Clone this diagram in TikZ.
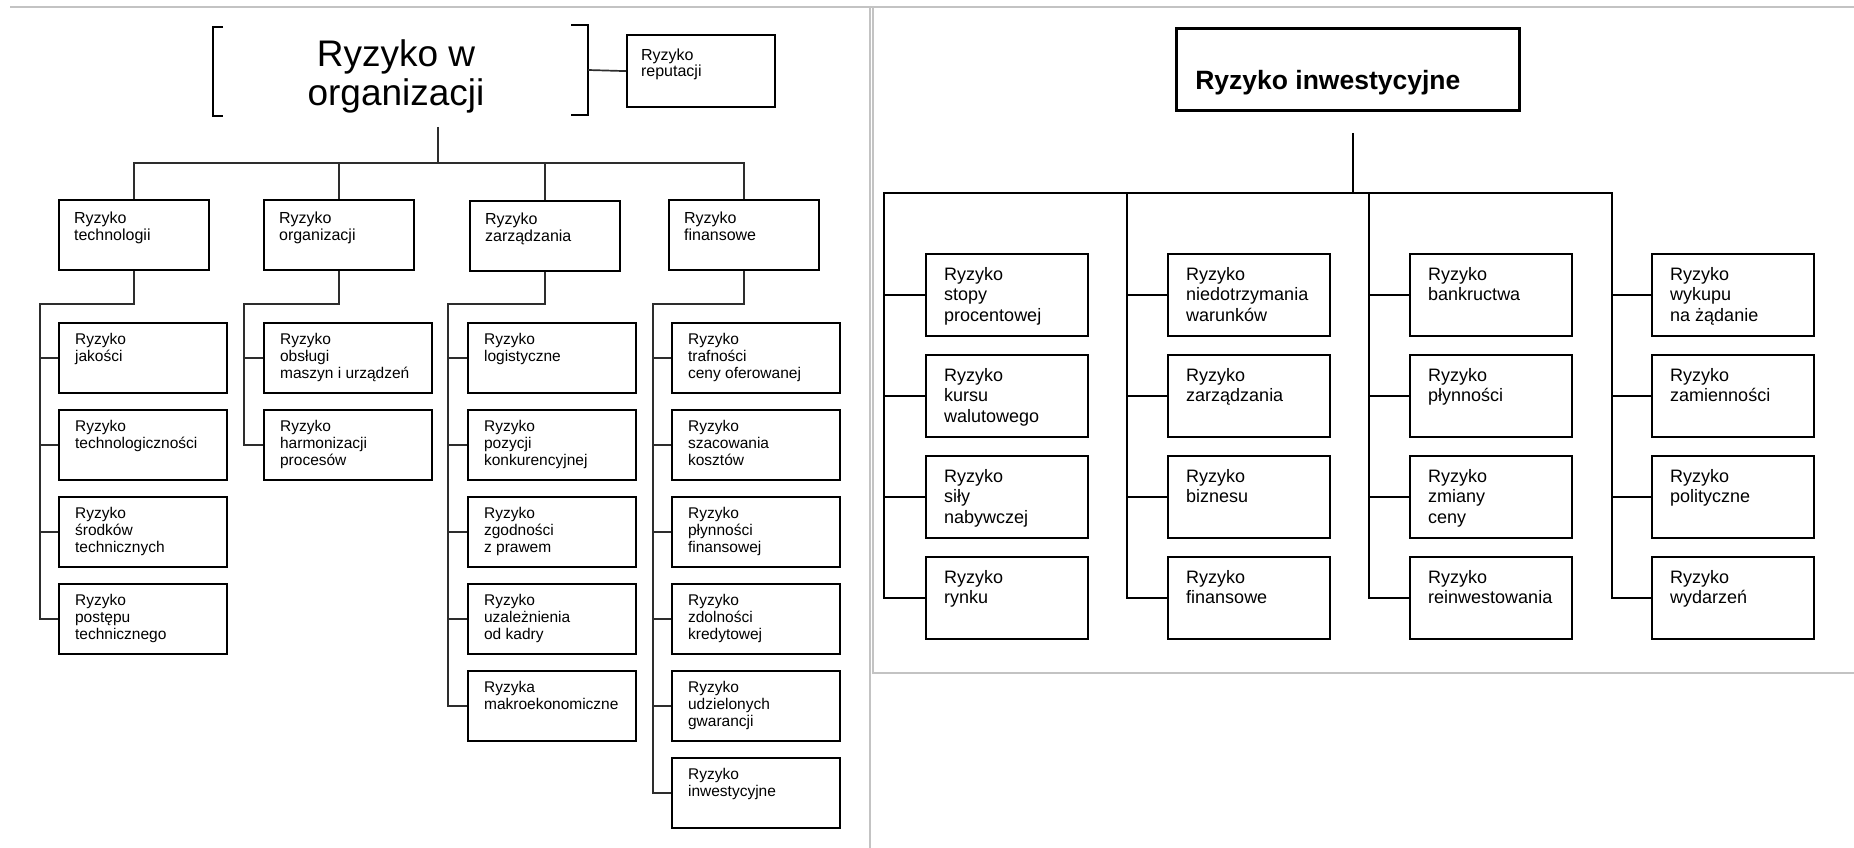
\documentclass[tikz,border=0pt]{standalone}
\usepackage{fontspec}
\setmainfont{Liberation Sans}
\definecolor{framegray}{RGB}{195,195,195}
\definecolor{conngray}{RGB}{45,45,45}
\newcommand\bt[5]{\hspace*{#1}\parbox[t][#2][t]{#3}{\raggedright\rule{0pt}{#4}#5}}
\newcommand\lone[1]{\bt{15pt}{70pt}{135pt}{23pt}{#1}}
\newcommand\ltwo[1]{\bt{16pt}{70pt}{152pt}{21pt}{#1}}
\newcommand\rtwo[1]{\bt{18pt}{82pt}{144pt}{26pt}{#1}}
\tikzset{
  boxbase/.style={draw=black, line width=2.2pt, inner sep=0pt, anchor=north west},
  lonebox/.style={boxbase, font=\fontsize{16}{17}\selectfont},
  ltwobox/.style={boxbase, font=\fontsize{15.5}{17}\selectfont},
  rtwobox/.style={boxbase, line width=2.4pt, font=\fontsize{18}{20.7}\selectfont},
  lconn/.style={draw=conngray, line width=1.7pt},
  rconn/.style={draw=black, line width=2pt},
  frame/.style={draw=framegray, line width=2pt}
}
\begin{document}
\begin{tikzpicture}[x=1pt, y=-1pt, line join=miter]
\useasboundingbox (0,0) rectangle (1854,848);
% frame lines
\draw[frame] (10,7) -- (1854,7);
\draw[frame] (870,7) -- (870,848);
\draw[frame] (873,7) -- (873,673) -- (1854,673);

% ---------------- left panel ----------------
\node[font=\fontsize{37}{39}\selectfont, align=center, inner sep=0pt, anchor=base] (title) at (396,106) {Ryzyko w\\organizacji};
\draw[line width=2.2pt] (223,27) -- (213,27) -- (213,116) -- (223,116);
\draw[line width=2.2pt] (571,25) -- (588,25) -- (588,115) -- (571,115);
\node[boxbase, font=\fontsize{16}{16.5}\selectfont] (rep) at (626,34) {\bt{14pt}{72pt}{134pt}{25pt}{Ryzyko\\reputacji}};
\coordinate (rb) at (588,70);
\draw[lconn] (rb) -- (rep.west);

\node[lonebox] (t1) at (58,199)  {\lone{Ryzyko\\technologii}};
\node[lonebox] (t2) at (263,199) {\lone{Ryzyko\\organizacji}};
\node[lonebox] (t3) at (469,200) {\lone{Ryzyko\\zarządzania}};
\node[lonebox] (t4) at (668,199) {\lone{Ryzyko\\finansowe}};

\coordinate (tb) at (438,127);
\coordinate (lbus) at (0,163);
\draw[lconn] (tb) -- (tb |- lbus);
\draw[lconn] (t1.north) -- (t1.north |- lbus) -- (t4.north |- lbus) -- (t4.north);
\draw[lconn] (t2.north |- lbus) -- (t2.north);
\draw[lconn] (t3.north |- lbus) -- (t3.north);

% sub boxes, left panel
\foreach \t [count=\i] in {{Ryzyko\\jakości},{Ryzyko\\technologiczności},{Ryzyko\\środków\\technicznych},{Ryzyko\\postępu\\technicznego}}
  \node[ltwobox] (a\i) at (58,{322+87*(\i-1)}) {\ltwo{\t}};
\foreach \t [count=\i] in {{Ryzyko\\obsługi\\maszyn i urządzeń},{Ryzyko\\harmonizacji\\procesów}}
  \node[ltwobox] (b\i) at (263,{322+87*(\i-1)}) {\ltwo{\t}};
\foreach \t [count=\i] in {{Ryzyko\\logistyczne},{Ryzyko\\pozycji\\konkurencyjnej},{Ryzyko\\zgodności\\z prawem},{Ryzyko\\uzależnienia\\od kadry},{Ryzyka\\makroekonomiczne}}
  \node[ltwobox] (c\i) at (467,{322+87*(\i-1)}) {\ltwo{\t}};
\foreach \t [count=\i] in {{Ryzyko\\trafności\\ceny oferowanej},{Ryzyko\\szacowania\\kosztów},{Ryzyko\\płynności\\finansowej},{Ryzyko\\zdolności\\kredytowej},{Ryzyko\\udzielonych\\gwarancji},{Ryzyko\\inwestycyjne}}
  \node[ltwobox] (d\i) at (671,{322+87*(\i-1)}) {\ltwo{\t}};

\coordinate (sA) at (40,304);
\coordinate (sB) at (244,304);
\coordinate (sC) at (448,304);
\coordinate (sD) at (653,304);
\draw[lconn] (t1.south) |- (sA) |- (a4.west);
\draw[lconn] (t2.south) |- (sB) |- (b2.west);
\draw[lconn] (t3.south) |- (sC) |- (c5.west);
\draw[lconn] (t4.south) |- (sD) |- (d6.west);
\foreach \i in {1,2,3} \draw[lconn] (sA |- a\i.west) -- (a\i.west);
\draw[lconn] (sB |- b1.west) -- (b1.west);
\foreach \i in {1,...,4} \draw[lconn] (sC |- c\i.west) -- (c\i.west);
\foreach \i in {1,...,5} \draw[lconn] (sD |- d\i.west) -- (d\i.west);

% ---------------- right panel ----------------
\node[boxbase, line width=2.6pt, font=\bfseries\fontsize{26.5}{30}\selectfont] (inv) at (1175,27) {\bt{19pt}{82pt}{324pt}{61pt}{Ryzyko inwestycyjne}};

\foreach \t [count=\i] in {{Ryzyko\\stopy\\procentowej},{Ryzyko\\kursu\\walutowego},{Ryzyko\\siły\\nabywczej},{Ryzyko\\rynku}}
  \node[rtwobox] (p\i) at (925,{253+101*(\i-1)}) {\rtwo{\t}};
\foreach \t [count=\i] in {{Ryzyko\\niedotrzymania\\warunków},{Ryzyko\\zarządzania},{Ryzyko\\biznesu},{Ryzyko\\finansowe}}
  \node[rtwobox] (q\i) at (1167,{253+101*(\i-1)}) {\rtwo{\t}};
\foreach \t [count=\i] in {{Ryzyko\\bankructwa},{Ryzyko\\płynności},{Ryzyko\\zmiany\\ceny},{Ryzyko\\reinwestowania}}
  \node[rtwobox] (r\i) at (1409,{253+101*(\i-1)}) {\rtwo{\t}};
\foreach \t [count=\i] in {{Ryzyko\\wykupu\\na żądanie},{Ryzyko\\zamienności},{Ryzyko\\polityczne},{Ryzyko\\wydarzeń}}
  \node[rtwobox] (s\i) at (1651,{253+101*(\i-1)}) {\rtwo{\t}};

\coordinate (mtop) at (1353,133);
\coordinate (rbus) at (0,193);
\coordinate (sp) at (884,193);
\coordinate (sq) at (1127,193);
\coordinate (sr) at (1369,193);
\coordinate (ss) at (1612,193);
\draw[rconn] (mtop) -- (mtop |- rbus);
\draw[rconn] (p4.west) -| (sp) -- (ss) |- (s4.west);
\draw[rconn] (sq) |- (q4.west);
\draw[rconn] (sr) |- (r4.west);
\foreach \i in {1,2,3} {
  \draw[rconn] (sp |- p\i.west) -- (p\i.west);
  \draw[rconn] (sq |- q\i.west) -- (q\i.west);
  \draw[rconn] (sr |- r\i.west) -- (r\i.west);
  \draw[rconn] (ss |- s\i.west) -- (s\i.west);
}
\end{tikzpicture}
\end{document}
